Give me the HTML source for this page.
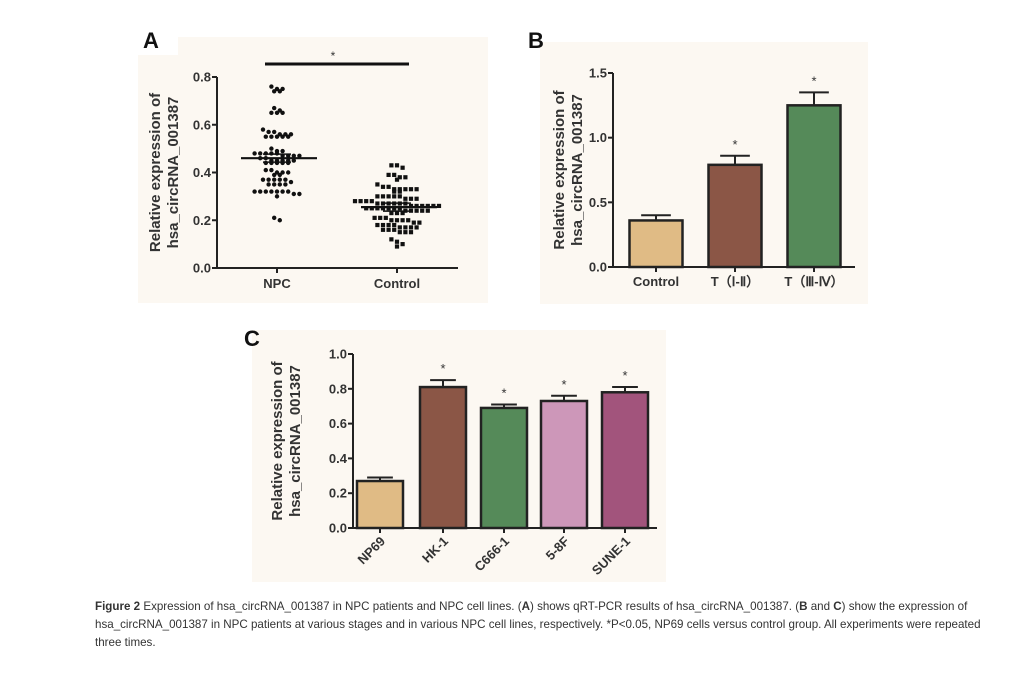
<!DOCTYPE html>
<html><head><meta charset="utf-8"><style>
body{margin:0;background:#fff;width:1017px;height:688px;overflow:hidden;font-family:"Liberation Sans",sans-serif}
svg{position:absolute;left:0;top:0}
.cap{position:absolute;left:95px;top:598px;width:905px;font-size:11.6px;line-height:18px;color:#333}
</style></head><body>
<svg width="1017" height="688">
<rect x="138" y="37" width="350" height="266" fill="#fcf8f2"/>
<rect x="130" y="25" width="48" height="30" fill="#fff"/>
<rect x="540" y="42" width="328" height="262" fill="#fcf8f2"/>
<rect x="252" y="330" width="414" height="252" fill="#fcf8f2"/>
<g id="A"></g><g id="B"></g><g id="C"></g>
</svg>
<div class="cap"><b>Figure 2</b> Expression of hsa_circRNA_001387 in NPC patients and NPC cell lines. (<b>A</b>) shows qRT-PCR results of hsa_circRNA_001387. (<b>B</b> and <b>C</b>) show the expression of hsa_circRNA_001387 in NPC patients at various stages and in various NPC cell lines, respectively. *P&lt;0.05, NP69 cells versus control group. All experiments were repeated three times.</div>
<script>
const npcValues=[0.76,0.75,0.75,0.74,0.74,0.67,0.66,0.65,0.65,0.65,0.58,0.57,0.57,0.56,0.56,0.56,0.55,0.55,0.55,0.55,0.55,0.50,0.49,0.49,0.48,0.48,0.48,0.48,0.48,0.47,0.47,0.47,0.47,0.46,0.46,0.45,0.45,0.45,0.45,0.45,0.44,0.44,0.44,0.44,0.44,0.41,0.41,0.40,0.40,0.40,0.39,0.39,0.37,0.37,0.37,0.37,0.37,0.36,0.35,0.35,0.35,0.35,0.32,0.32,0.32,0.32,0.32,0.32,0.32,0.31,0.31,0.30,0.21,0.20];
const controlValues=[0.43,0.43,0.42,0.39,0.39,0.38,0.38,0.37,0.35,0.34,0.34,0.33,0.33,0.33,0.33,0.33,0.32,0.32,0.30,0.30,0.30,0.30,0.30,0.29,0.29,0.29,0.28,0.28,0.28,0.28,0.27,0.27,0.27,0.27,0.27,0.27,0.26,0.26,0.26,0.26,0.26,0.26,0.25,0.25,0.25,0.25,0.25,0.25,0.25,0.24,0.24,0.24,0.24,0.24,0.23,0.23,0.23,0.21,0.21,0.21,0.20,0.20,0.20,0.20,0.19,0.19,0.18,0.18,0.18,0.18,0.17,0.17,0.17,0.17,0.16,0.16,0.16,0.15,0.15,0.15,0.12,0.11,0.10,0.09];
const aMeans=[0.46,0.255];
const aTicks=[0,0.2,0.4,0.6,0.8];
const bCats=["Control","T（Ⅰ-Ⅱ）","T（Ⅲ-Ⅳ）"];
const bVals=[0.36,0.79,1.25];
const bErr=[0.04,0.07,0.10];
const bTicks=[0,0.5,1.0,1.5];
const cCats=["NP69","HK-1","C666-1","5-8F","SUNE-1"];
const cVals=[0.27,0.81,0.69,0.73,0.78];
const cErr=[0.02,0.04,0.02,0.03,0.03];
const cTicks=[0,0.2,0.4,0.6,0.8,1.0];
const NS="http://www.w3.org/2000/svg";
function mk(p,t,a,txt){const e=document.createElementNS(NS,t);for(const k in a)e.setAttribute(k,a[k]);if(txt!==undefined)e.textContent=txt;p.appendChild(e);return e;}
function yAxis(g,x,y0,y1,max,ticks,fmt,title,tx,name){
 const ys=v=>y0-(v/max)*(y0-y1);
 const ax=mk(g,'line',{x1:x,y1:y0,x2:x,y2:ys(max),stroke:'#222','stroke-width':2});
 
 ticks.forEach(t=>{mk(g,'line',{x1:x-5,x2:x,y1:ys(t),y2:ys(t),stroke:'#222','stroke-width':2});
  const l=mk(g,'text',{x:x-6,y:ys(t)+4.5,'text-anchor':'end','font-size':13,'font-weight':'bold',fill:'#333'},t.toFixed(fmt));
  });
 const tt=mk(g,'text',{transform:`translate(${tx},${(y0+ys(max))/2}) rotate(-90)`,'text-anchor':'middle','font-size':15,'font-weight':'bold',fill:'#333'});
 
 mk(tt,'tspan',{x:0,dy:-2},'Relative expression of');mk(tt,'tspan',{x:0,dy:18},'hsa_circRNA_001387');
 return ys;}
function label(g,x,y,t,name){const e=mk(g,'text',{x:x,y:y,'font-size':22,'font-weight':'bold',fill:'#111'},t);}
// Panel A
(function(){const g=document.getElementById('A');label(g,143,48,'A','panel-a-label');
 const ys=yAxis(g,217,268,77,0.8,aTicks,1,'',162,'panel-a');
 mk(g,'line',{x1:217,x2:458,y1:268,y2:268,stroke:'#222','stroke-width':2});
 const cx=[277,397];
 [npcValues,controlValues].forEach((vals,i)=>{
  const bins={};vals.forEach(v=>{const k=Math.round(ys(v)/5.5);(bins[k]=bins[k]||[]).push(v);});
  for(const k in bins){const arr=bins[k];arr.forEach((v,j)=>{const off=(j-(arr.length-1)/2)*5.6;
   let d;if(i===0){d=mk(g,'circle',{cx:cx[i]+off,cy:ys(v),r:2.2,fill:'#111'});}
   else{d=mk(g,'rect',{x:cx[i]+off-2.1,y:ys(v)-2.1,width:4.2,height:4.2,fill:'#111'});}
   });}
  const m=mk(g,'line',{x1:cx[i]-36,x2:cx[i]+40,y1:ys(aMeans[i]),y2:ys(aMeans[i]),stroke:'#111','stroke-width':2.2});
  
  mk(g,'line',{x1:cx[i]-14,x2:cx[i]+14,y1:ys(aMeans[i])-4,y2:ys(aMeans[i])-4,stroke:'#111','stroke-width':1.5});
  mk(g,'line',{x1:cx[i]-14,x2:cx[i]+14,y1:ys(aMeans[i])+4,y2:ys(aMeans[i])+4,stroke:'#111','stroke-width':1.5});
  mk(g,'line',{x1:cx[i],x2:cx[i],y1:268,y2:273,stroke:'#222','stroke-width':2});
  const t=mk(g,'text',{x:cx[i],y:288,'text-anchor':'middle','font-size':13,'font-weight':'bold',fill:'#333'},['NPC','Control'][i]);
  });
 const s=mk(g,'line',{x1:265,x2:409,y1:64,y2:64,stroke:'#111','stroke-width':3});
 mk(g,'text',{x:333,y:60,'text-anchor':'middle','font-size':12,fill:'#333'},'*');})();
function bars(g,ys,y0,centers,w,vals,err,colors,cats,rot,name){
 vals.forEach((v,i)=>{const x=centers[i]-w/2;
  mk(g,'line',{x1:centers[i],x2:centers[i],y1:ys(v),y2:ys(v+err[i]),stroke:'#222','stroke-width':2});
  mk(g,'line',{x1:centers[i]-w*0.28,x2:centers[i]+w*0.28,y1:ys(v+err[i]),y2:ys(v+err[i]),stroke:'#222','stroke-width':2});
  const b=mk(g,'rect',{x:x,y:ys(v),width:w,height:y0-ys(v),fill:colors[i],stroke:'#222','stroke-width':2.5});
  
  if(i>0){mk(g,'text',{x:centers[i],y:ys(v+err[i])-7,'text-anchor':'middle','font-size':13,fill:'#333'},'*');}
  mk(g,'line',{x1:centers[i],x2:centers[i],y1:y0,y2:y0+5,stroke:'#222','stroke-width':2});
  let t;if(rot){t=mk(g,'text',{transform:`translate(${centers[i]+6},${y0+14}) rotate(-45)`,'text-anchor':'end','font-size':13,'font-weight':'bold',fill:'#333'},cats[i]);}
  else{t=mk(g,'text',{x:centers[i],y:y0+19,'text-anchor':'middle','font-size':13,'font-weight':'bold',fill:'#333'},cats[i]);}
  });}
(function(){const g=document.getElementById('B');label(g,528,48,'B','panel-b-label');
 const ys=yAxis(g,613,267,73,1.5,bTicks,1,'',566,'panel-b');
 mk(g,'line',{x1:613,x2:855,y1:267,y2:267,stroke:'#222','stroke-width':2});
 bars(g,ys,267,[656,735,814],53,bVals,bErr,['#e0bb85','#8b5646','#558a59'],bCats,false,'panel-b');})();
(function(){const g=document.getElementById('C');label(g,244,346,'C','panel-c-label');
 const ys=yAxis(g,353,528,354,1.0,cTicks,1,'',284,'panel-c');
 mk(g,'line',{x1:353,x2:657,y1:528,y2:528,stroke:'#222','stroke-width':2});
 bars(g,ys,528,[380,443,504,564,625],46,cVals,cErr,['#e0bb85','#8b5646','#558a59','#cd97b9','#a2547c'],cCats,true,'panel-c');})();
</script>
</body></html>
